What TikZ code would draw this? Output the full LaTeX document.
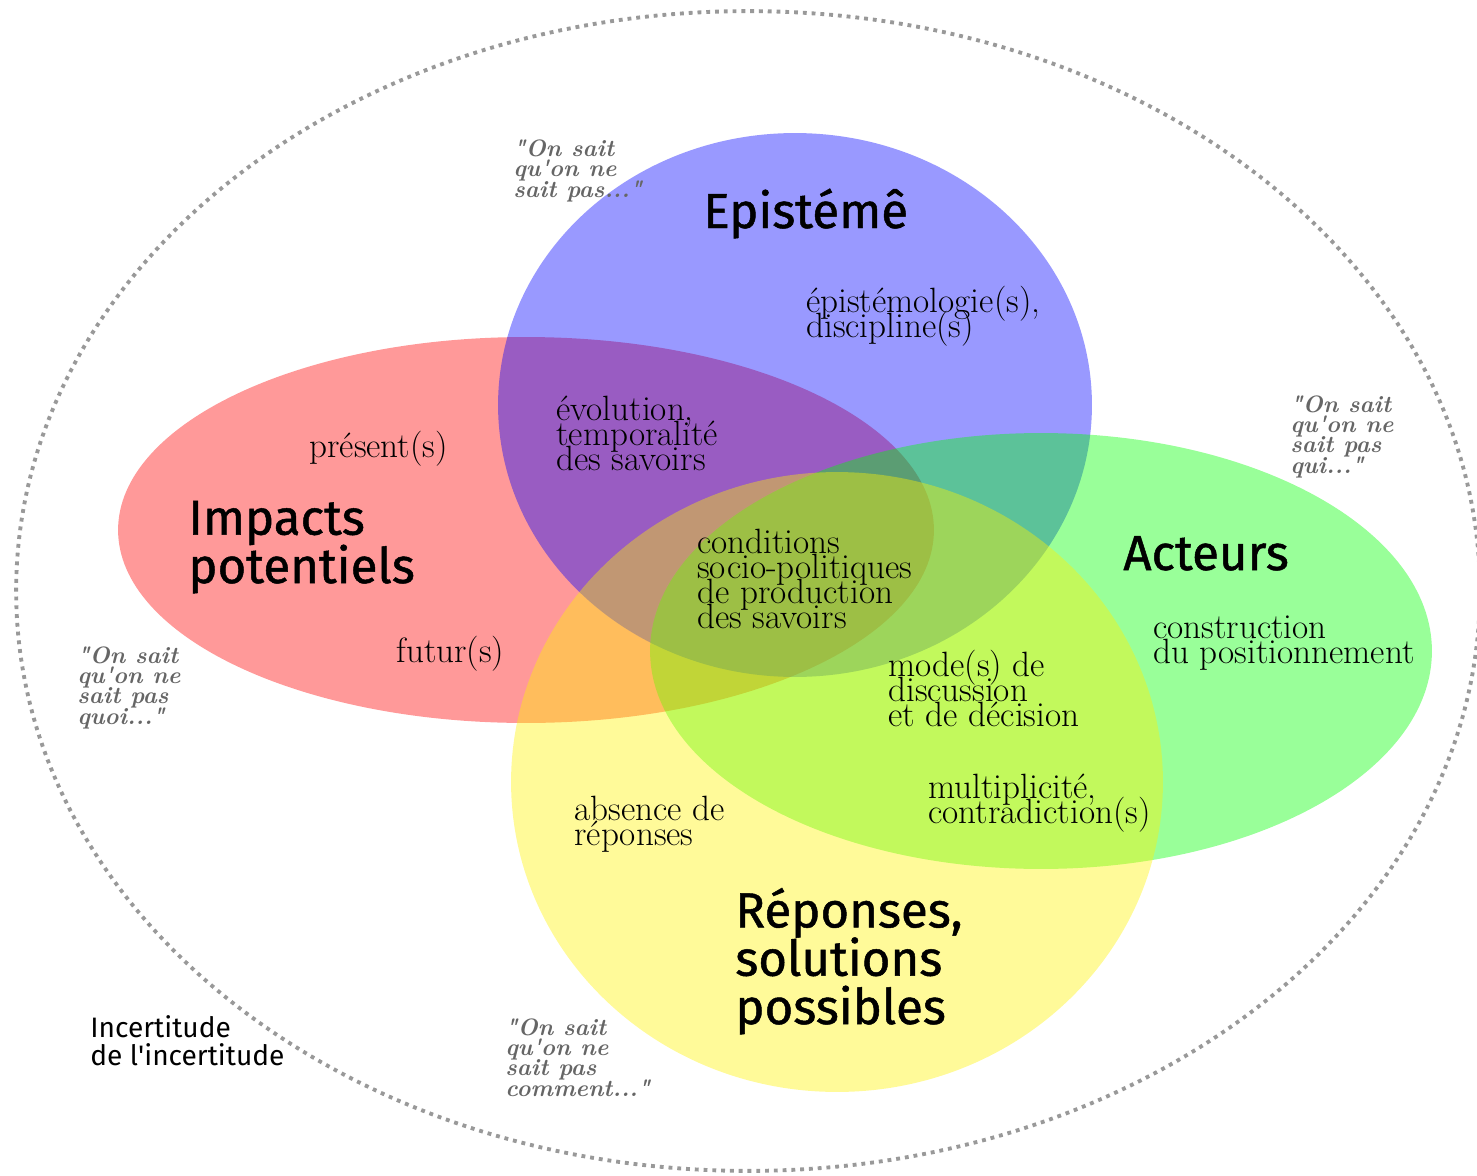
\documentclass[tikz,border=0pt]{standalone}
\usepackage{fontspec}
\usetikzlibrary{shapes.geometric}
\newfontfamily\titlefont{Fira Sans}[FakeBold=1]
\newfontfamily\smallfont{Fira Sans}
\newcommand{\dq}{\textquotedbl}
\newcommand{\sq}{\textquotesingle}
\lineskiplimit=-100pt

\begin{document}
\begin{tikzpicture}[
x=0.02cm, y=-0.02cm,
set/.style = {ellipse, inner sep=0, fill opacity=0.4},
heading/.style = {anchor=base west, align=left, inner sep=0, font=\titlefont\fontsize{28}{27.5}\selectfont},
remark/.style = {anchor=base west, align=left, inner sep=0, font=\fontsize{20}{14.2}\selectfont},
saying/.style = {anchor=base west, align=left, inner sep=0, text=black!60, font=\bfseries\itshape\fontsize{13.5}{11.4}\selectfont} ]
\useasboundingbox (0,0) rectangle (1477,1176);

% the four sets
\node[set, fill=red, minimum width=16.32cm, minimum height=7.72cm] (impacts) at (526,530) {};
\node[set, fill=blue, minimum width=11.88cm, minimum height=10.88cm] (episteme) at (795,405) {};
\node[set, fill=green, minimum width=15.64cm, minimum height=8.72cm] (acteurs) at (1041,651) {};
\node[set, fill=yellow, minimum width=13.04cm, minimum height=12.4cm] (reponses) at (837,782) {};

% the frame round them
\node[ellipse, draw=black!40, line width=2.2pt, dash pattern=on 2.2pt off 2.8pt,
  inner sep=0, minimum width=29.28cm, minimum height=23.2cm] (frame) at (748,591) {};

% headings (placed at the baseline of their last line)
\node[heading] (t1) at (703,228) {Epistémê};
\node[heading] (t2) at (188,583) {Impacts\\potentiels};
\node[heading] (t3) at (1123,570) {Acteurs};
\node[heading] (t4) at (735,1024) {Réponses,\\solutions\\possibles};
\node[heading, font=\smallfont\fontsize{16}{15.5}\selectfont] (t5) at (90,1065) {Incertitude\\de l\sq incertitude};

% texts in the sets
\node[remark] (r1) at (806,337) {épistémologie(s),\\discipline(s)};
\node[remark] (r2) at (556,470) {évolution,\\temporalité\\des savoirs};
\node[remark] (r3) at (309,457) {présent(s)};
\node[remark] (r4) at (396,662) {futur(s)};
\node[remark] (r5) at (697,628) {conditions\\socio-politiques\\de production\\des savoirs};
\node[remark] (r6) at (1153,663) {construction\\du positionnement};
\node[remark] (r7) at (888,726) {mode(s) de\\discussion\\et de décision};
\node[remark] (r8) at (928,823) {multiplicité,\\contradiction(s)};
\node[remark] (r9) at (574,845) {absence de\\réponses};

% what we know we do not know
\node[saying] (s1) at (513,197) {\dq On sait\\qu\sq on ne\\sait pas...\dq};
\node[saying] (s2) at (77,724) {\dq On sait\\qu\sq on ne\\sait pas\\quoi...\dq};
\node[saying] (s3) at (1290,473) {\dq On sait\\qu\sq on ne\\sait pas\\qui...\dq};
\node[saying] (s4) at (505,1096) {\dq On sait\\qu\sq on ne\\sait pas\\comment...\dq};

\end{tikzpicture}
\end{document}
